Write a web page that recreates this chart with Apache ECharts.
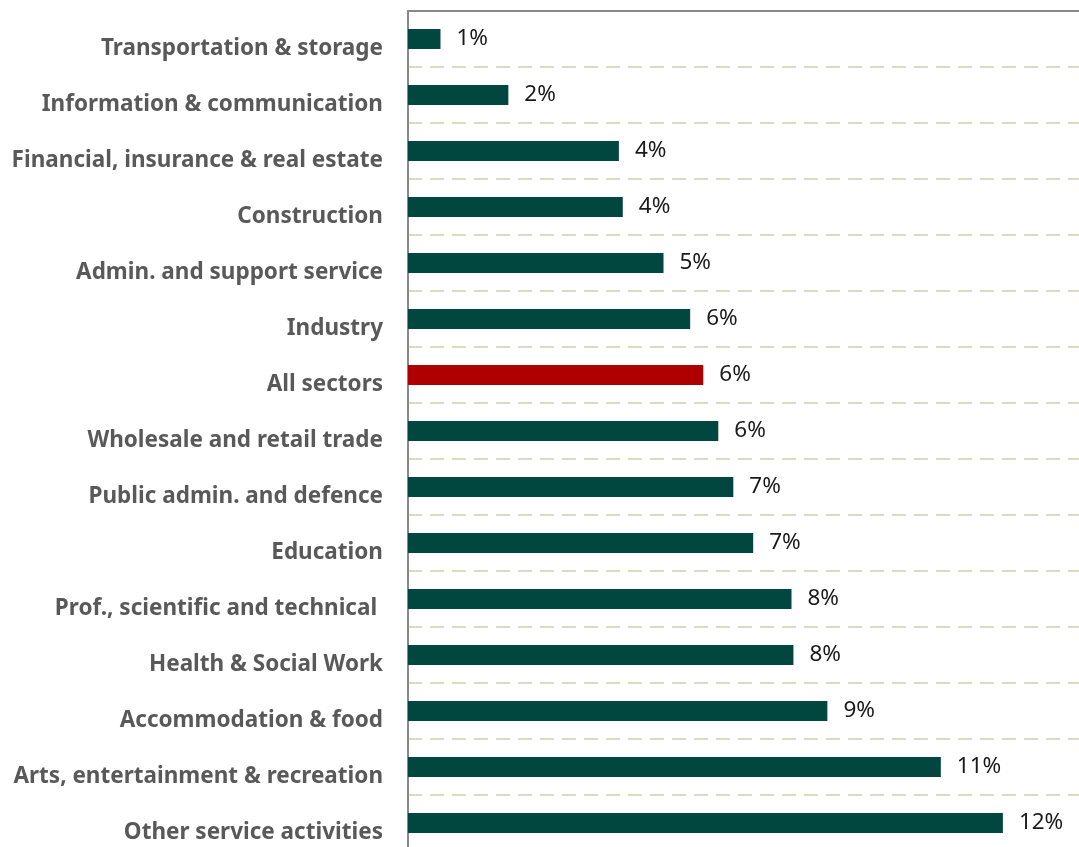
<!DOCTYPE html>
<html>
<head>
<meta charset="utf-8">
<script src="https://cdn.jsdelivr.net/npm/echarts@6/dist/echarts.min.js"></script>
<style>
html,body{margin:0;padding:0;background:#fff;overflow:hidden;}
#chart{width:1079px;height:851px;}
</style>
</head>
<body>
<div id="chart"></div>
<script>
const categories = [
  "Transportation & storage",
  "Information & communication",
  "Financial, insurance & real estate",
  "Construction",
  "Admin. and support service",
  "Industry",
  "All sectors",
  "Wholesale and retail trade",
  "Public admin. and defence",
  "Education",
  "Prof., scientific and technical ",
  "Health & Social Work",
  "Accommodation & food",
  "Arts, entertainment & recreation",
  "Other service activities"
];
const values = [0.67, 2.07, 4.35, 4.43, 5.27, 5.82, 6.09, 6.40, 6.71, 7.12, 7.91, 7.95, 8.65, 10.99, 12.27];
const highlightCategory = "All sectors";

const barColor = "#02473F";
const highlightColor = "#AE0000";

const chart = echarts.init(document.getElementById('chart'), null, {renderer: 'canvas'});
chart.setOption({
  animation: false,
  backgroundColor: '#ffffff',
  grid: {left: 408, right: 0, top: 11, bottom: 0, containLabel: false},
  xAxis: {
    type: 'value',
    position: 'top',
    min: 0,
    max: 13.84,
    axisLine: {show: true, onZero: false, lineStyle: {color: '#888888', width: 2}},
    axisTick: {show: false},
    axisLabel: {show: false},
    splitLine: {show: false}
  },
  yAxis: {
    type: 'category',
    inverse: true,
    data: categories,
    axisLine: {show: true, lineStyle: {color: '#888888', width: 2}},
    axisTick: {show: false},
    axisLabel: {
      margin: 25,
      fontFamily: 'Noto Sans',
      fontWeight: 'bold',
      fontSize: 22.5,
      color: '#595959',
      verticalAlign: 'top',
      lineHeight: 20
    },
    splitLine: {
      show: true,
      lineStyle: {color: '#DDD9C3', width: 2, type: [14, 8]}
    }
  },
  series: [{
    type: 'bar',
    barWidth: 20,
    data: values.map((v, i) => ({
      value: v,
      itemStyle: {color: categories[i] === highlightCategory ? highlightColor : barColor}
    })),
    label: {
      show: true,
      position: 'right',
      distance: 16,
      fontFamily: 'Noto Sans',
      fontSize: 22.5,
      color: '#1a1a1a',
      formatter: p => Math.round(p.value) + '%'
    }
  }]
});
</script>
</body>
</html>
